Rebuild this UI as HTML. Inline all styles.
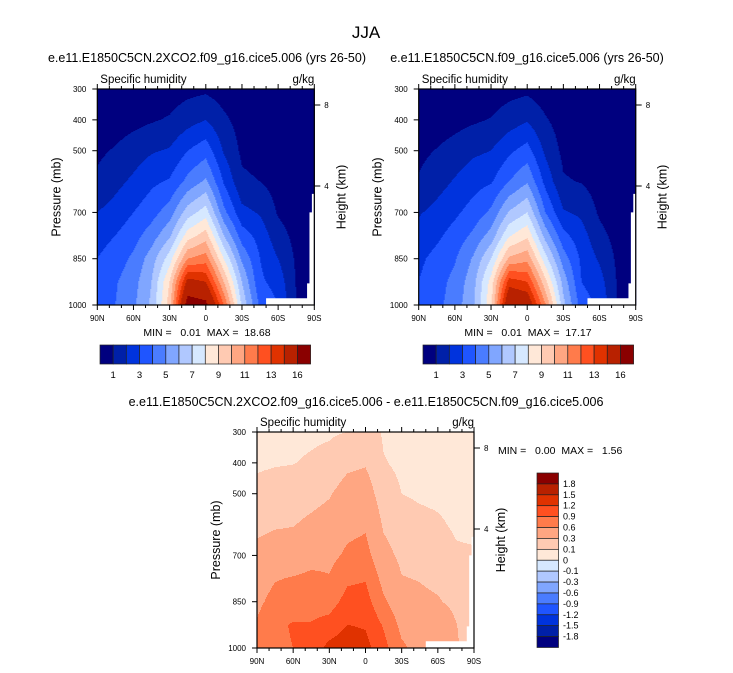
<!DOCTYPE html>
<html><head><meta charset="utf-8"><style>
html,body{margin:0;padding:0;background:#fff;width:733px;height:673px;overflow:hidden}
svg{display:block;font-family:"Liberation Sans",sans-serif}
text{white-space:pre}
</style></head><body>
<svg id="s" width="733" height="673" viewBox="0 0 733 673"></svg>
<script>
// ---- data ----
const lats = [90,75,60,45,30,15,0,-15,-30,-45,-60,-75,-90];
const pLevels = [300,400,500,600,700,775,850,925,1000];
const q2x = [
 [0.1,0.1,0.2,0.3,0.5,0.7,0.8,0.5,0.3,0.2,0.1,0.05,0.02],
 [0.3,0.5,0.7,0.9,1.1,1.6,2.0,1.2,0.6,0.4,0.2,0.1,0.05],
 [0.8,1.1,1.5,1.9,2.1,3.0,3.6,1.9,0.8,0.6,0.4,0.25,0.1],
 [1.2,1.7,2.2,2.8,3.1,4.3,5.2,2.9,1.2,1.0,0.6,0.4,0.2],
 [2.0,2.4,3.0,3.6,4.5,6.5,7.5,4.3,2.3,1.9,0.9,0.5,0.3],
 [2.6,3.0,3.6,4.5,5.8,8.5,9.5,6.0,3.5,2.6,1.4,0.7,0.4],
 [3.0,3.5,4.2,5.5,7.5,11,11.5,8.0,4.8,3.0,2.0,0.85,0.5],
 [3.2,3.9,4.6,6.0,9.0,14.5,14,10,6.0,3.2,2.6,0.95,0.6],
 [3.3,4.0,4.8,6.2,9.5,17,16.5,12,6.8,3.8,3.0,1.0,0.6]
];
const qCtl = [
 [0.1,0.1,0.2,0.3,0.45,0.65,0.75,0.45,0.28,0.18,0.1,0.05,0.02],
 [0.28,0.45,0.65,0.85,1.05,1.5,1.9,1.1,0.55,0.35,0.2,0.1,0.05],
 [0.75,1.05,1.4,1.8,2.0,2.8,3.4,1.8,0.75,0.55,0.35,0.22,0.1],
 [1.1,1.6,2.1,2.6,2.9,4.0,4.9,2.7,1.1,0.95,0.55,0.35,0.18],
 [1.9,2.3,2.8,3.4,4.2,6.1,7.0,4.0,2.1,1.8,0.85,0.45,0.28],
 [2.4,2.8,3.4,4.2,5.4,7.9,8.8,5.6,3.3,2.4,1.3,0.65,0.35],
 [2.8,3.3,3.9,5.1,7.0,10.2,10.7,7.4,4.5,2.8,1.85,0.8,0.45],
 [3.0,3.6,4.3,5.6,8.4,13.5,13,9.3,5.6,3.0,2.4,0.9,0.55],
 [3.1,3.7,4.5,5.8,8.8,15.8,15.3,11.1,6.3,3.5,2.8,0.95,0.55]
];
const qDiff = [
 [0.05,0.06,0.06,0.07,0.08,0.10,0.20,0.08,0.04,0.03,0.03,0.02,0.02],
 [0.08,0.09,0.095,0.12,0.15,0.25,0.28,0.11,0.07,0.05,0.05,0.04,0.03],
 [0.14,0.16,0.18,0.22,0.28,0.40,0.42,0.18,0.10,0.08,0.07,0.06,0.04],
 [0.25,0.28,0.29,0.35,0.40,0.52,0.56,0.27,0.17,0.14,0.12,0.08,0.06],
 [0.36,0.40,0.42,0.50,0.52,0.65,0.70,0.38,0.25,0.22,0.19,0.12,0.12],
 [0.45,0.58,0.62,0.66,0.62,0.85,0.88,0.50,0.31,0.29,0.25,0.18,0.14],
 [0.53,0.70,0.78,0.78,0.78,1.00,1.02,0.65,0.40,0.35,0.32,0.24,0.15],
 [0.63,0.85,0.92,0.92,1.00,1.20,1.17,0.87,0.52,0.45,0.50,0.31,0.14],
 [0.70,0.85,0.90,1.00,1.30,1.40,1.30,1.00,0.65,0.50,0.55,0.35,0.08]
];
const absLevels = [1,2,3,4,5,6,7,8,9,10,11,12,13,14,16];
const absLabels = ["1","3","5","7","9","11","13","16"];
const diffLevels = [-1.8,-1.5,-1.2,-0.9,-0.6,-0.3,-0.1,0,0.1,0.3,0.6,0.9,1.2,1.5,1.8];
const colors = ["#00007f","#0020a8","#0033dd","#1f55ff","#4a7cff","#80a6ff","#b0c8ff","#d6e8ff","#ffe8d8","#ffcab2","#ffa682","#ff7b4b","#ff5020","#e03200","#b82100","#8a0000"];
const pTicks = [300,400,500,700,850,1000];
const latTicks = [90,60,30,0,-30,-60,-90];
const latTickLabels = ["90N","60N","30N","0","30S","60S","90S"];

const NS="http://www.w3.org/2000/svg";
const svg=document.getElementById('s');
function mk(tag,attrs,parent){const e=document.createElementNS(NS,tag);for(const k in attrs)e.setAttribute(k,attrs[k]);(parent||svg).appendChild(e);return e;}
function txt(x,y,s,size,anchor,parent,name,rot){const t=mk('text',{x:x,y:y,'font-size':size,'text-anchor':anchor||'start',fill:'#000'},parent);
 if(rot)t.setAttribute('transform','rotate(-90 '+x+' '+y+')');
 t.textContent=s;
 
 
 return t;}

function sample(grid,lat,p){
 let i=0;while(i<lats.length-2&&lat<lats[i+1])i++;
 let j=0;while(j<pLevels.length-2&&p>pLevels[j+1])j++;
 const fx=(lats[i]-lat)/(lats[i]-lats[i+1]);const fy=(p-pLevels[j])/(pLevels[j+1]-pLevels[j]);
 const a=grid[j][i],b=grid[j][i+1],c=grid[j+1][i],d=grid[j+1][i+1];
 return (a*(1-fx)+b*fx)*(1-fy)+(c*(1-fx)+d*fx)*fy;}
function colorIdx(v,levels){let k=0;while(k<levels.length&&v>=levels[k])k++;return k;}

function panel(x0,y0,grid,levels,name,minmax,mmPos){
 const W=217,H=216;
 const g=mk('g',{},svg);
 
 
 const xs=lat=>x0+(90-lat)/180*W;
 const ys=p=>y0+(p-300)/700*H;
 const fill=mk('g',{},g);
 
 
 const st=1;
 for(let py=0;py<H;py+=st){
  const p=300+(py+st/2)/H*700;
  let runStart=0,runC=-1;
  for(let px=0;px<=W;px+=st){
   let c=-2;
   if(px<W){const lat=90-(px+st/2)/W*180;c=colorIdx(sample(grid,lat,p),levels);}
   if(c!==runC){
    if(runC>=0){mk('rect',{x:x0+runStart,y:y0+py,width:Math.min(px,W)-runStart+0.5,height:st+0.5,fill:colors[runC]},fill);}
    runStart=px;runC=c;}
  }
 }
 const m=mk('path',{d:'M'+xs(-50)+' '+ys(978)+' H'+xs(-84)+' V'+ys(930)+' H'+xs(-86)+' V'+ys(700)+' H'+xs(-88)+' V'+ys(640)+' H'+(x0+W)+' V'+(y0+H)+' H'+xs(-50)+' Z',fill:'#fff'},g);
 
 
 mk('rect',{x:x0,y:y0,width:W,height:H,fill:'none',stroke:'#000','stroke-width':1.2},g);
 pTicks.forEach(p=>{const y=ys(p);mk('line',{x1:x0-5,x2:x0,y1:y,y2:y,stroke:'#000'},g);txt(x0-11,y+3,String(p),8,'end',g,'y-tick-label');});
 for(let lat=90;lat>=-90;lat-=10){const x=xs(lat);const major=lat%30===0;
  mk('line',{x1:x,x2:x,y1:y0+H,y2:y0+H+(major?5:3),stroke:'#000'},g);
  mk('line',{x1:x,x2:x,y1:y0,y2:y0-(major?5:3),stroke:'#000'},g);}
 latTicks.forEach((lat,i)=>txt(xs(lat),y0+H+16,latTickLabels[i],8,'middle',g,'x-tick-label'));
 [[8,16],[4,97]].forEach(([h,dy])=>{mk('line',{x1:x0+W,x2:x0+W+6,y1:y0+dy,y2:y0+dy,stroke:'#000'},g);txt(x0+W+10,y0+dy+3,String(h),8,'start',g,'height-tick-label');});
 txt(x0+3,y0-6,'Specific humidity',11.5,'start',g,'variable-label');
 txt(x0+W,y0-6,'g/kg',11.5,'end',g,'units-label');
 txt(x0-37,y0+H/2,'Pressure (mb)',12.5,'middle',g,'y-axis-title',true);
 txt(x0+W+31,y0+H/2,'Height (km)',12.5,'middle',g,'right-axis-title',true);
 txt(mmPos[0],mmPos[1],minmax,10.5,mmPos[2],g,'min-max-label');
 return {xs,ys};
}

txt(366,38,'JJA',17,'middle',svg,'figure-title');
txt(207,62,'e.e11.E1850C5CN.2XCO2.f09_g16.cice5.006 (yrs 26-50)',12.5,'middle',svg,'panel-title-left');
txt(527,62,'e.e11.E1850C5CN.f09_g16.cice5.006 (yrs 26-50)',12.5,'middle',svg,'panel-title-right');
txt(366,406,'e.e11.E1850C5CN.2XCO2.f09_g16.cice5.006 - e.e11.E1850C5CN.f09_g16.cice5.006',12.5,'middle',svg,'panel-title-diff');

panel(97.3,89,q2x,absLevels,'panel-2xco2','MIN =   0.01  MAX =  18.68',[207,336,'middle']);
panel(418.7,89,qCtl,absLevels,'panel-control','MIN =   0.01  MAX =  17.17',[528,336,'middle']);
panel(257,432,qDiff,diffLevels,'panel-difference','MIN =   0.00  MAX =   1.56',[498,454,'start']);

function hbar(x0,y0,name){const g=mk('g',{},svg);
 
 
 const bw=210.6/16;
 colors.forEach((c,i)=>mk('rect',{x:x0+i*bw,y:y0,width:bw,height:19,fill:c,stroke:'#222','stroke-width':0.7},g));
 absLabels.forEach((l,i)=>{const k=(i<7)?i*2:14;txt(x0+(k+1)*bw,y0+33,l,9.5,'middle',g,'colorbar-label');});}
hbar(100,345,'colorbar-top-left');
hbar(423,345,'colorbar-top-right');
(function(){const g=mk('g',{},svg);
 
 
 const x0=537,y0=473,bh=174.5/16;
 for(let i=0;i<16;i++)mk('rect',{x:x0,y:y0+i*bh,width:21.5,height:bh,fill:colors[15-i],stroke:'#222','stroke-width':0.7},g);
 for(let i=0;i<15;i++){const lv=diffLevels[14-i];txt(x0+26,y0+(i+1)*bh+3,String(lv),9,'start',g,'colorbar-label');}
})();
</script>
</body></html>
